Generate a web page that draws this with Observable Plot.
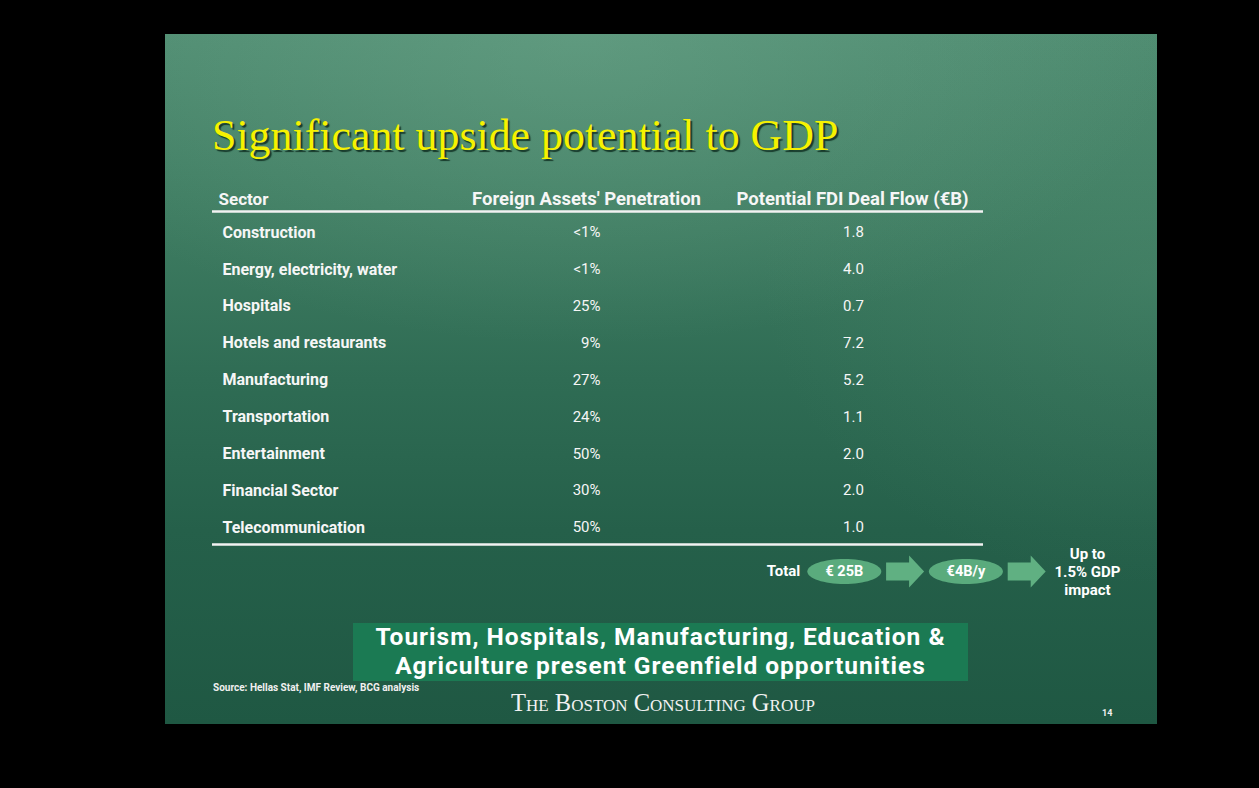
<!DOCTYPE html>
<html>
<head>
<meta charset="utf-8">
<script src="https://cdn.jsdelivr.net/npm/d3@7"></script>
<script src="https://cdn.jsdelivr.net/npm/@observablehq/plot@0.6"></script>
<style>
  html, body { margin: 0; padding: 0; background: #000; }
  body { width: 1259px; height: 788px; position: relative; overflow: hidden; font-family: Roboto, "Noto Sans", sans-serif; }
  #slide { position: absolute; left: 165px; top: 34px; width: 992px; height: 690px;
    background:
      radial-gradient(ellipse 60% 45% at 42% 0%, rgba(120,175,148,0.4), rgba(120,175,148,0) 100%),
      radial-gradient(ellipse 40% 45% at 100% 35%, rgba(90,150,120,0.25), rgba(90,150,120,0) 100%),
      linear-gradient(180deg, #4f8c71 0%, #3f7d62 25%, #2f6c54 50%, #25604a 72%, #1f5843 100%);
  }
  #title { position: absolute; left: 212px; top: 113px; font-family: "Liberation Serif", "DejaVu Serif", serif;
    font-size: 45px; line-height: 45px; color: #f6f200; text-shadow: 2px 2px 1px #173a2b; white-space: nowrap;
    transform: scaleX(0.975); transform-origin: left top; }
  #table { position: absolute; left: 165px; top: 180px; }
  #flow { position: absolute; left: 740px; top: 540px; }
  #banner { position: absolute; left: 353px; top: 623px; width: 615px; height: 58px; background: #1b7a53;
    color: #fff; font-weight: 700; font-size: 24.5px; letter-spacing: 1px; line-height: 28.5px; text-align: center; padding-top: 0px; box-sizing: border-box; white-space: nowrap; }
  #source { position: absolute; left: 213px; top: 682px; font-size: 10px; font-weight: 700; color: #f0f0f0; white-space: nowrap; }
  #bcg { position: absolute; left: 413px; width: 500px; top: 690px; text-align: center; font-family: "Liberation Serif", "DejaVu Serif", serif;
    font-variant: small-caps; font-size: 24.5px; line-height: 26px; color: #f2f2f2; }
  #page { position: absolute; left: 1102px; top: 708px; font-size: 9px; font-weight: 700; color: #f0f0f0; }
</style>
</head>
<body>
<div id="slide"></div>
<div id="title">Significant upside potential to GDP</div>
<div id="table"></div>
<div id="flow"></div>
<div id="banner">Tourism, Hospitals, Manufacturing, Education &amp;<br>Agriculture present Greenfield opportunities</div>
<div id="source">Source: Hellas Stat, IMF Review, BCG analysis</div>
<div id="bcg">The Boston Consulting Group</div>
<div id="page">14</div>
<script>
// ---- Data ----
const columns = ["Sector", "Foreign Assets' Penetration", "Potential FDI Deal Flow (€B)"];
const sectors = ["Construction", "Energy, electricity, water", "Hospitals", "Hotels and restaurants",
  "Manufacturing", "Transportation", "Entertainment", "Financial Sector", "Telecommunication"];
const penetration = ["<1%", "<1%", "25%", "9%", "27%", "24%", "50%", "30%", "50%"];
const dealFlow = [1.8, 4.0, 0.7, 7.2, 5.2, 1.1, 2.0, 2.0, 1.0];
const totalLabel = "Total";
const flowSteps = ["€ 25B", "€4B/y"];
const flowResult = "Up to\n1.5% GDP\nimpact";

const rows = sectors.map((s, i) => ({sector: s, pen: penetration[i], deal: dealFlow[i]}));

const txt = "#f6f6f6";
const table = Plot.plot({
  width: 992, height: 380,
  marginLeft: 47, marginRight: 174, marginTop: 19, marginBottom: 0,
  style: {background: "transparent", color: txt, fontFamily: "Roboto, 'Noto Sans', sans-serif", overflow: "visible"},
  x: {type: "point", domain: columns, range: [53, 687], padding: 0, round: false, axis: null},
  y: {type: "point", domain: sectors, range: [52, 347], padding: 0, round: false, axis: null},
  marks: [
    Plot.text([columns[0]], {x: d => d, frameAnchor: "top", lineAnchor: "middle", textAnchor: "start", text: d => d, fontSize: 17, fontWeight: "bold", fill: txt}),
    Plot.text([columns[1]], {x: d => d, frameAnchor: "top", lineAnchor: "middle", textAnchor: "middle", dx: 51, text: d => d, fontSize: 18.5, fontWeight: "bold", fill: txt}),
    Plot.text([columns[2]], {x: d => d, frameAnchor: "top", lineAnchor: "middle", textAnchor: "middle", text: d => d, fontSize: 18.5, fontWeight: "bold", fill: txt}),
    Plot.ruleY([sectors[0]], {dy: -21, stroke: "#f2f2f2", strokeWidth: 2.5}),
    Plot.ruleY([sectors[sectors.length - 1]], {dy: 17, stroke: "#f2f2f2", strokeWidth: 2.5}),
    Plot.text(rows, {x: () => columns[0], y: "sector", text: "sector", textAnchor: "start", dx: 4, fontSize: 16, fontWeight: "bold", fill: txt}),
    Plot.text(rows, {x: () => columns[1], y: "sector", text: "pen", textAnchor: "end", dx: 65, fontSize: 15, fill: txt}),
    Plot.text(rows, {x: () => columns[2], y: "sector", text: d => d.deal.toFixed(1), textAnchor: "middle", dx: 1, fontSize: 15, fill: txt})
  ]
});
document.getElementById("table").appendChild(table);

// ---- Flow: Total -> € 25B -> €4B/y -> impact ----
const k = 0.5523;
const ellipseSym = {draw(ctx) {
  const a = 37, b = 12.5;
  ctx.moveTo(a, 0);
  ctx.bezierCurveTo(a, b * k, a * k, b, 0, b);
  ctx.bezierCurveTo(-a * k, b, -a, b * k, -a, 0);
  ctx.bezierCurveTo(-a, -b * k, -a * k, -b, 0, -b);
  ctx.bezierCurveTo(a * k, -b, a, -b * k, a, 0);
  ctx.closePath();
}};
const arrowSym = {draw(ctx) {
  ctx.moveTo(-19, -9); ctx.lineTo(4, -9); ctx.lineTo(4, -16); ctx.lineTo(19, 0);
  ctx.lineTo(4, 16); ctx.lineTo(4, 9); ctx.lineTo(-19, 9); ctx.closePath();
}};
const flowKeys = [totalLabel, flowSteps[0], "a1", flowSteps[1], "a2", flowResult];
const flow = Plot.plot({
  width: 400, height: 70, margin: 0, marginBottom: 8,
  style: {background: "transparent", color: "#fff", fontFamily: "Roboto, 'Noto Sans', sans-serif", overflow: "visible"},
  x: {type: "point", domain: flowKeys, range: [43, 347], padding: 0, round: false, axis: null},
  marks: [
    Plot.dot(flowSteps, {x: d => d, frameAnchor: "middle", symbol: ellipseSym, fill: "#5aab7d", stroke: "none"}),
    Plot.dot(["a1", "a2"], {x: d => d, frameAnchor: "middle", symbol: arrowSym, fill: "#60b082", stroke: "none"}),
    Plot.text([totalLabel], {x: d => d, frameAnchor: "middle", text: d => d, fontSize: 15, fontWeight: "bold", fill: "#fff"}),
    Plot.text(flowSteps, {x: d => d, frameAnchor: "middle", text: d => d, fontSize: 14.5, fontWeight: "bold", fill: "#fff"}),
    Plot.text([flowResult], {x: d => d, frameAnchor: "middle", text: d => d, fontSize: 15, fontWeight: "bold", fill: "#fff", lineHeight: 1.2})
  ]
});
document.getElementById("flow").appendChild(flow);
</script>
</body>
</html>
